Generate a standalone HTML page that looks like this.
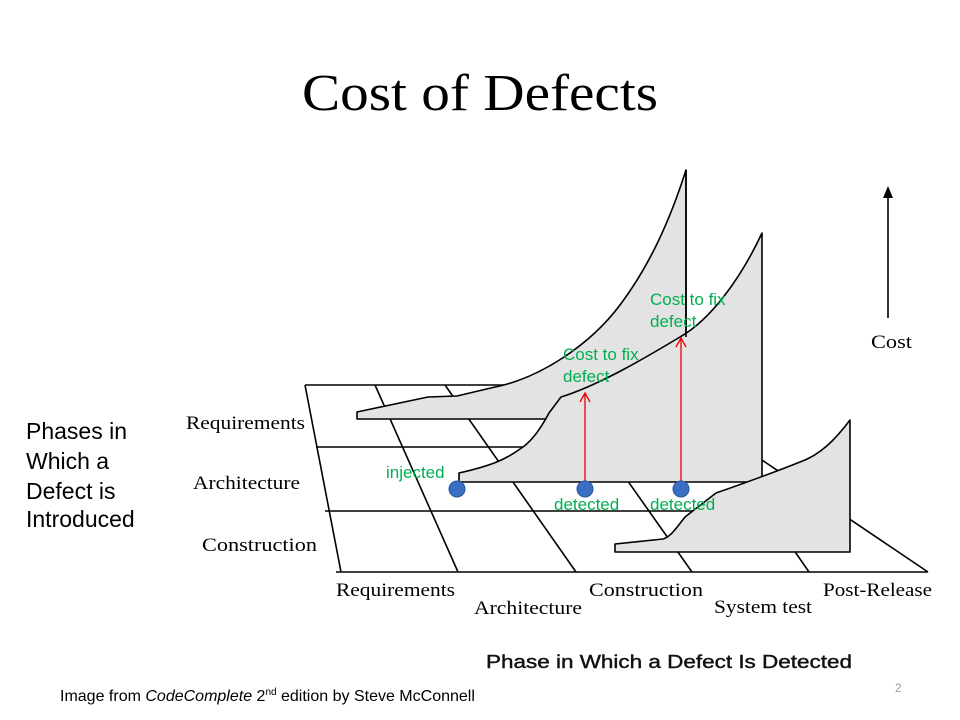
<!DOCTYPE html>
<html><head><meta charset="utf-8"><style>
html,body{margin:0;padding:0;background:#fff;width:960px;height:720px;overflow:hidden}
</style></head><body>
<svg width="960" height="720" viewBox="0 0 960 720" xmlns="http://www.w3.org/2000/svg">
<text x="480" y="110" text-anchor="middle" font-family="Liberation Serif, serif" font-size="52" textLength="356" lengthAdjust="spacingAndGlyphs">Cost of Defects</text>
<g stroke="#000" stroke-width="1.6" fill="none">
<line x1="305" y1="385" x2="560" y2="385"/>
<line x1="316" y1="447" x2="762" y2="447"/>
<line x1="325" y1="511" x2="714" y2="511"/>
<line x1="336" y1="572" x2="928" y2="572"/>
<line x1="305" y1="385" x2="341" y2="572"/>
<line x1="375" y1="385" x2="458" y2="572"/>
<line x1="445" y1="385" x2="576" y2="572"/>
<line x1="560" y1="385" x2="692" y2="572"/>
<line x1="680" y1="385" x2="809" y2="572"/>
<line x1="762" y1="460" x2="928" y2="572"/>
</g>
<g stroke="#000" stroke-width="1.6" fill="#e3e3e3" stroke-linejoin="round">
<path d="M357,412 L357,419 L686,419 L686,170 C670,220 650,265 620,305 C590,345 540,378 495,387 L457,396 L428,397 Z"/>
<path d="M459,473 L459,482 L762,482 L762,233 C740,280 710,320 680,337 C650,355 600,385 561,397 L549,413 C540,430 530,443 520,449 C505,460 490,466 459,473 Z"/>
<path d="M615,544 L615,552 L850,552 L850,420 C835,440 820,455 800,462 C780,470 762,477 716,493 L685,517 C675,530 670,537 663,539 Z"/>
</g>
<line x1="686" y1="170" x2="686" y2="337" stroke="#000" stroke-width="1.6"/>
<g stroke="#e00" stroke-width="1.3" fill="none">
<line x1="585" y1="489" x2="585" y2="393"/>
<polyline points="580,402 585,393 590,402"/>
<line x1="681" y1="489" x2="681" y2="338"/>
<polyline points="676,347 681,338 686,347"/>
</g>
<g fill="#3a6fc4" stroke="#2a55a0" stroke-width="1">
<circle cx="457" cy="489" r="8"/><circle cx="585" cy="489" r="8"/><circle cx="681" cy="489" r="8"/>
</g>
<g fill="#00b050" font-family="Liberation Sans, sans-serif" font-size="17">
<text x="563" y="360">Cost to fix</text><text x="563" y="382">defect</text>
<text x="650" y="305">Cost to fix</text><text x="650" y="327">defect</text>
<text x="386" y="478">injected</text>
<text x="554" y="510">detected</text><text x="650" y="510">detected</text>
</g>
<line x1="888" y1="318" x2="888" y2="195" stroke="#000" stroke-width="1.6"/>
<polygon points="883,198 888,186 893,198" fill="#000"/>
<g font-family="Liberation Serif, serif" font-size="19" fill="#000">
<text x="871" y="348" textLength="41" lengthAdjust="spacingAndGlyphs">Cost</text>
<text x="186" y="429" textLength="119" lengthAdjust="spacingAndGlyphs">Requirements</text>
<text x="193" y="489" textLength="107" lengthAdjust="spacingAndGlyphs">Architecture</text>
<text x="202" y="551" textLength="115" lengthAdjust="spacingAndGlyphs">Construction</text>
<text x="336" y="596" textLength="119" lengthAdjust="spacingAndGlyphs">Requirements</text>
<text x="474" y="614" textLength="108" lengthAdjust="spacingAndGlyphs">Architecture</text>
<text x="589" y="596" textLength="114" lengthAdjust="spacingAndGlyphs">Construction</text>
<text x="714" y="613" textLength="98" lengthAdjust="spacingAndGlyphs">System test</text>
<text x="823" y="596" textLength="109" lengthAdjust="spacingAndGlyphs">Post-Release</text>
</g>
<g font-family="Liberation Sans, sans-serif" font-size="23" fill="#000">
<text x="26" y="439">Phases in</text>
<text x="26" y="469">Which a</text>
<text x="26" y="499">Defect is</text>
<text x="26" y="527">Introduced</text>
</g>
<text x="486" y="668" font-family="Liberation Sans, sans-serif" font-size="18" fill="#111" stroke="#111" stroke-width="0.4" textLength="366" lengthAdjust="spacingAndGlyphs">Phase in Which a Defect Is Detected</text>
<text x="60" y="701" font-family="Liberation Sans, sans-serif" font-size="16" fill="#000">Image from <tspan font-style="italic">CodeComplete</tspan> 2<tspan font-size="10" dy="-6">nd</tspan><tspan dy="6"> edition by Steve McConnell</tspan></text>
<text x="895" y="692" font-family="Liberation Sans, sans-serif" font-size="12" fill="#999">2</text>
</svg>
</body></html>
